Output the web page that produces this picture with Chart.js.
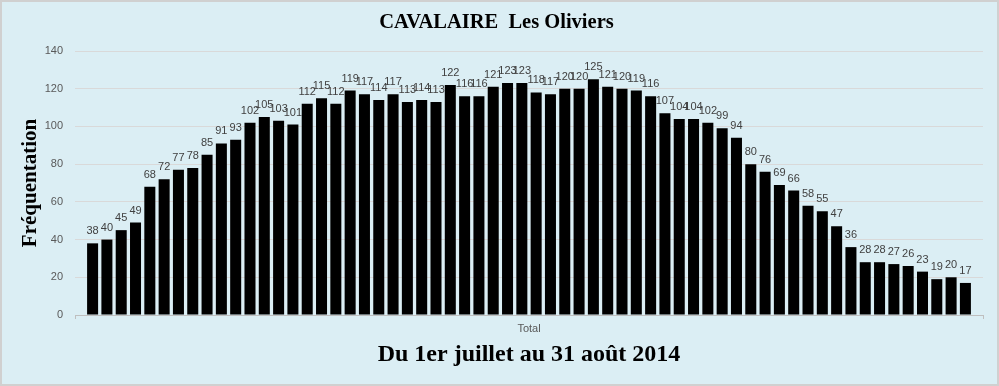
<!DOCTYPE html>
<html>
<head>
<meta charset="utf-8">
<script src="https://cdn.jsdelivr.net/npm/chart.js@4/dist/chart.umd.min.js"></script>
<style>
    html, body { margin: 0; padding: 0; background: #dbeef4; }
    canvas { display: block; }
</style>
</head>
<body>
<canvas id="frequentationChart" width="999" height="386"></canvas>
<script>
const categories = ['Total'];

const dayLabels = [
    '01/07', '02/07', '03/07', '04/07', '05/07', '06/07', '07/07', '08/07', '09/07', '10/07',
    '11/07', '12/07', '13/07', '14/07', '15/07', '16/07', '17/07', '18/07', '19/07', '20/07',
    '21/07', '22/07', '23/07', '24/07', '25/07', '26/07', '27/07', '28/07', '29/07', '30/07',
    '31/07', '01/08', '02/08', '03/08', '04/08', '05/08', '06/08', '07/08', '08/08', '09/08',
    '10/08', '11/08', '12/08', '13/08', '14/08', '15/08', '16/08', '17/08', '18/08', '19/08',
    '20/08', '21/08', '22/08', '23/08', '24/08', '25/08', '26/08', '27/08', '28/08', '29/08',
    '30/08', '31/08'
];

const visitors = [
    38, 40, 45, 49, 68, 72, 77, 78, 85, 91,
    93, 102, 105, 103, 101, 112, 115, 112, 119, 117,
    114, 117, 113, 114, 113, 122, 116, 116, 121, 123,
    123, 118, 117, 120, 120, 125, 121, 120, 119, 116,
    107, 104, 104, 102, 99, 94, 80, 76, 69, 66,
    58, 55, 47, 36, 28, 28, 27, 26, 23, 19,
    20, 17
];

const yTicks = [0, 20, 40, 60, 80, 100, 120, 140];

const SANS = "'Liberation Sans', Arial, sans-serif";
const SERIF = "'Liberation Serif', 'Times New Roman', serif";

// background + thin grey frame
const backgroundPlugin = {
    id: 'background',
    beforeDraw(chart) {
        const ctx = chart.ctx;
        ctx.save();
        ctx.fillStyle = '#dbeef4';
        ctx.fillRect(0, 0, chart.width, chart.height);
        ctx.strokeStyle = '#d0d0d0';
        ctx.lineWidth = 2;
        ctx.strokeRect(1, 1, chart.width - 2, chart.height - 2);
        ctx.restore();
    }
};

// value above each bar
const valueLabelsPlugin = {
    id: 'valueLabels',
    afterDatasetsDraw(chart) {
        const ctx = chart.ctx;
        ctx.save();
        ctx.font = '11px ' + SANS;
        ctx.fillStyle = '#404040';
        ctx.textAlign = 'center';
        ctx.textBaseline = 'alphabetic';
        chart.data.datasets.forEach((ds, i) => {
            const meta = chart.getDatasetMeta(i);
            meta.data.forEach((bar, j) => {
                ctx.fillText(String(ds.data[j]), bar.x, bar.y - 9);
            });
        });
        ctx.restore();
    }
};

const datasets = visitors.map((v, i) => ({
    label: dayLabels[i],
    data: [v],
    backgroundColor: '#000000',
    borderWidth: 0,
    barPercentage: 0.77,
    categoryPercentage: 0.977
}));

const ctx = document.getElementById('frequentationChart').getContext('2d');

new Chart(ctx, {
    type: 'bar',
    data: {
        labels: categories,
        datasets: datasets
    },
    plugins: [backgroundPlugin, valueLabelsPlugin],
    options: {
        responsive: false,
        animation: false,
        layout: {
            padding: { left: 10, right: 16, top: 0, bottom: 0 }
        },
        plugins: {
            legend: { display: false },
            tooltip: { enabled: false },
            title: {
                display: true,
                text: 'CAVALAIRE  Les Oliviers',
                color: '#000000',
                font: { family: SERIF, size: 20.5, weight: 'bold', lineHeight: 1.2 },
                padding: { top: 10.7, bottom: 15.7 }
            }
        },
        scales: {
            x: {
                afterFit: (scale) => { scale.height = 71; },
                grid: {
                    drawOnChartArea: false,
                    tickLength: 4,
                    color: '#bfbfbf'
                },
                border: { color: '#bfbfbf' },
                ticks: {
                    color: '#595959',
                    font: { family: SANS, size: 11 },
                    padding: 3
                },
                title: {
                    display: true,
                    text: 'Du 1er juillet au 31 août 2014',
                    color: '#000000',
                    font: { family: SERIF, size: 24, weight: 'bold', lineHeight: 1.2 },
                    padding: { top: 0, bottom: 16.6 }
                }
            },
            y: {
                min: 0,
                max: 140,
                afterFit: (scale) => { scale.width = 65; },
                afterBuildTicks: (scale) => {
                    scale.ticks = yTicks.map(v => ({ value: v }));
                },
                grid: {
                    color: '#d9d9d9',
                    drawTicks: false
                },
                border: { display: false },
                ticks: {
                    color: '#595959',
                    font: { family: SANS, size: 11 },
                    padding: 12
                },
                title: {
                    display: true,
                    text: 'Fréquentation',
                    color: '#000000',
                    font: { family: SERIF, size: 21, weight: 'bold', lineHeight: 1.2 },
                    padding: { top: 8.4, bottom: 0 }
                }
            }
        }
    }
});
</script>
</body>
</html>
